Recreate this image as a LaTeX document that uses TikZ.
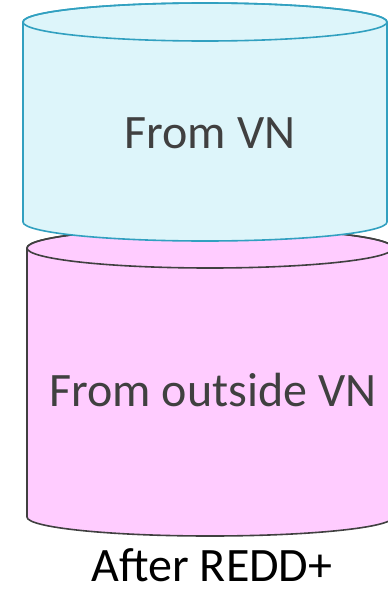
\documentclass[tikz,border=0pt]{standalone}
\usepackage{fontspec}
\setmainfont{Carlito}
\definecolor{cyfill}{HTML}{DDF5FA}
\definecolor{cyline}{HTML}{31A0C0}
\definecolor{mgfill}{HTML}{FFCCFF}
\definecolor{mgline}{HTML}{404040}
\definecolor{txtgray}{HTML}{404040}
\tikzset{
  cyl/.style={line width=1.6pt, line join=round},
  lbl/.style={font=\fontsize{48}{56}\selectfont, inner sep=0pt}
}
\begin{document}
\begin{tikzpicture}[x=1pt,y=1pt]
\useasboundingbox (0,0) rectangle (388,-589);
\clip (0,0) rectangle (388,-589);
% magenta cylinder
\begin{scope}[shift={(210,0)}]
  \path[cyl, fill=mgfill, draw=mgline]
    (-183,-248) -- (-183,-517) arc[start angle=180, end angle=360, x radius=183, y radius=19]
    -- (183,-248) arc[start angle=0, end angle=180, x radius=183, y radius=20] -- cycle;
  \draw[cyl, draw=mgline] (0,-248) ellipse[x radius=183, y radius=20];
\end{scope}
% cyan cylinder
\begin{scope}[shift={(205,0)}]
  \path[cyl, fill=cyfill, draw=cyline]
    (-182,-22) -- (-182,-222) arc[start angle=180, end angle=360, x radius=182, y radius=19]
    -- (182,-22) arc[start angle=0, end angle=180, x radius=182, y radius=19] -- cycle;
  \draw[cyl, draw=cyline] (0,-22) ellipse[x radius=182, y radius=19];
\end{scope}
\node[lbl, text=txtgray] (vn) at (210,-133) {From VN};
\node[lbl, text=txtgray] (out) at (213,-390) {From outside VN};
\node[lbl, text=black, anchor=base, text depth=0pt] (after) at (212,-581) {After REDD+};
\end{tikzpicture}
\end{document}
